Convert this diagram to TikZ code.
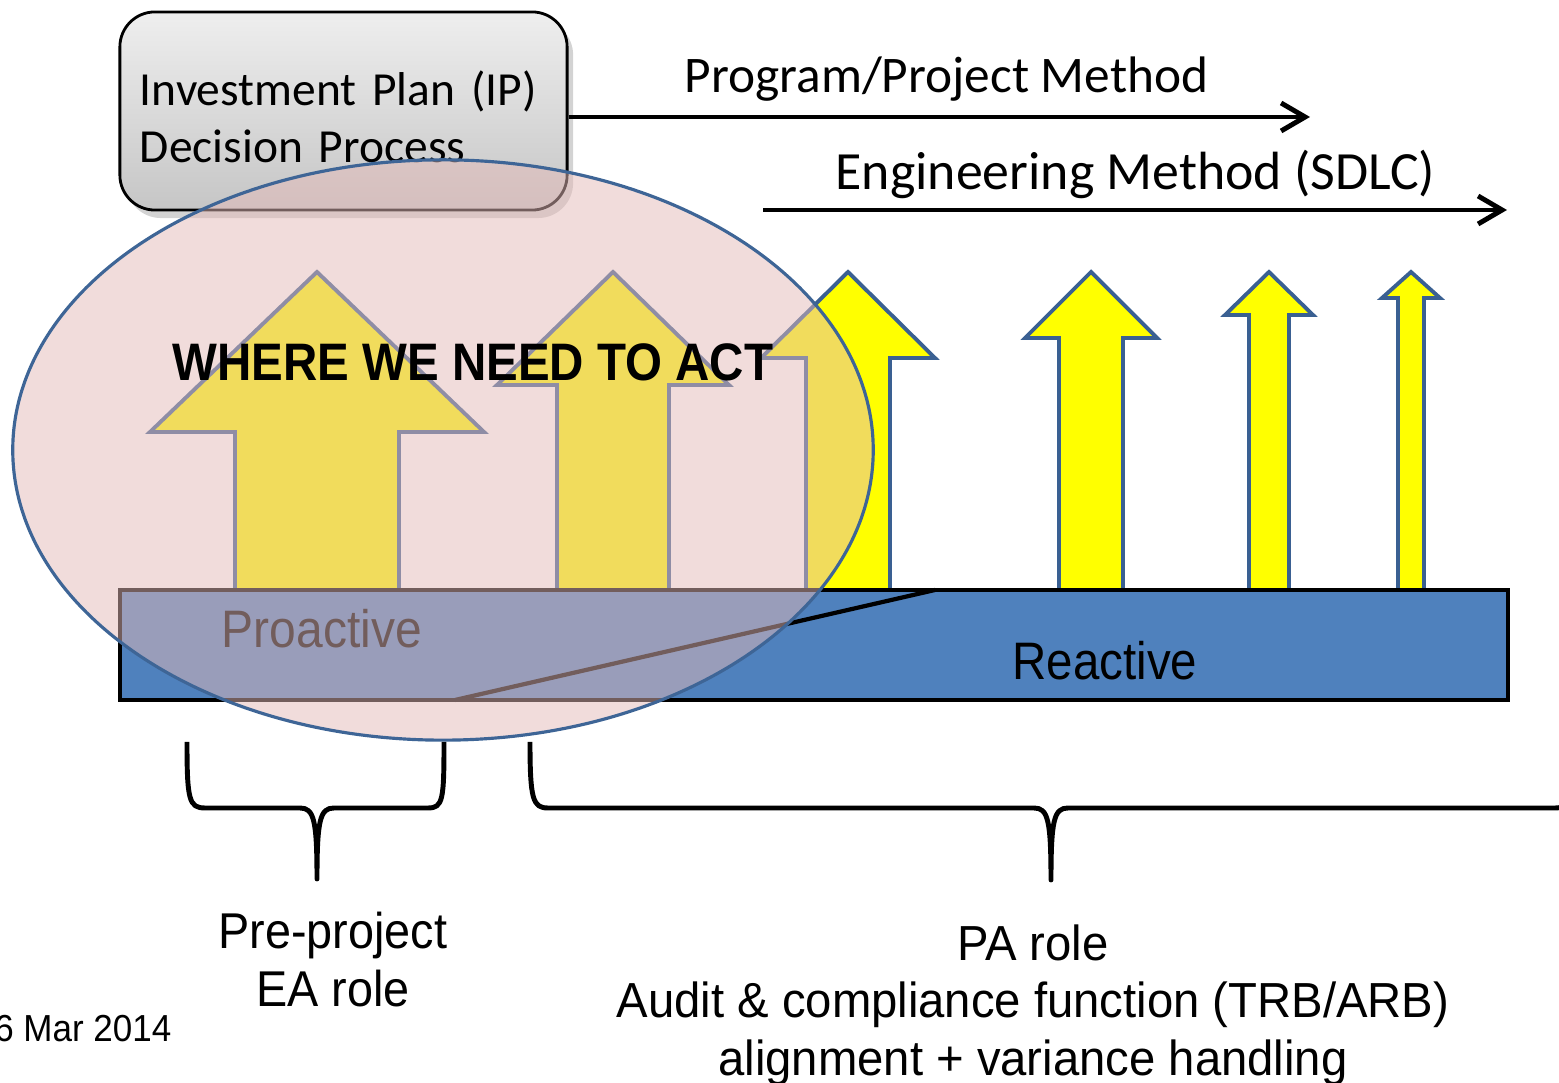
\documentclass[tikz,border=0pt]{standalone}
\usepackage{fontspec}
\setmainfont{Liberation Sans}
\newfontfamily\carlito{Carlito}
\usepackage{tikz}
\usetikzlibrary{arrows.meta, positioning, shapes.geometric, shadows}
\definecolor{zonefill}{RGB}{228,186,184}
\definecolor{zoneline}{RGB}{62,101,150}
\definecolor{arrowline}{RGB}{58,96,146}
\definecolor{phaseblue}{RGB}{79,129,189}
\definecolor{actyellow}{RGB}{255,255,0}
\tikzset{
    ipbox/.style={draw=black, line width=0.8pt, rounded corners=0.35cm, minimum width=4.47cm, minimum height=1.98cm, text width=4.07cm, inner xsep=0.2cm, align=left, top color=gray!13, bottom color=gray!45, drop shadow={opacity=0.35, shadow xshift=0.6mm, shadow yshift=-0.8mm}, font=\carlito\fontsize{13.5}{16.2}\selectfont},
    method/.style={-{Straight Barb[length=2.4mm, width=2.8mm]}, line width=1.4pt},
    methodlabel/.style={anchor=base west, inner sep=0pt, font=\carlito\fontsize{14.6}{17}\selectfont},
    actarrow/.style={fill=actyellow, draw=arrowline, line width=1.1pt},
    phase/.style={fill=phaseblue, draw=black, line width=1.2pt},
    split/.style={draw=black, line width=1.2pt},
    phaselabel/.style={anchor=base west, inner sep=0pt, font=\fontsize{15}{18}\selectfont},
    zone/.style={ellipse, draw=zoneline, line width=0.9pt, fill=zonefill, fill opacity=0.5, minimum width=8.6cm, minimum height=5.8cm},
    brace/.style={line width=1.4pt, line join=round},
    rolelabel/.style={anchor=north, inner sep=0pt, align=center},
    squeeze/.style={xscale=#1, transform shape},
}
\begin{document}
\begin{tikzpicture}[x=0.01cm, y=-0.01cm]
    \useasboundingbox (0,0) rectangle (1559,1083);

    % decision box and method lines
    \node[ipbox] (ip) at (343.5,111) {\rule{0pt}{13pt}Investment Plan (IP)\\Decision Process};
    \coordinate (pmend) at (1310,117);
    \coordinate (emstart) at (763,210);
    \coordinate (emend) at (1507,210);
    \draw[method] (ip.east |- pmend) -- (pmend);
    \draw[method] (emstart) -- (emend);
    \node[methodlabel] (pm) at (684,93) {Program/Project Method};
    \node[methodlabel, font=\carlito\fontsize{15.3}{18}\selectfont] (em) at (835,190) {Engineering Method (SDLC)};

    % arrows
    \draw[actarrow] (317,272) -- (484,432) -- (399,432) -- (399,590) -- (235,590) -- (235,432) -- (150,432) -- cycle;
    \draw[actarrow] (613,272) -- (729,385) -- (669,385) -- (669,590) -- (557,590) -- (557,385) -- (497,385) -- cycle;
    \draw[actarrow] (848,272) -- (935,358) -- (890,358) -- (890,590) -- (806,590) -- (806,358) -- (761,358) -- cycle;
    \draw[actarrow] (1091,272) -- (1157,338) -- (1123,338) -- (1123,590) -- (1059,590) -- (1059,338) -- (1025,338) -- cycle;
    \draw[actarrow] (1269,272) -- (1313,315) -- (1289,315) -- (1289,590) -- (1249,590) -- (1249,315) -- (1225,315) -- cycle;
    \draw[actarrow] (1411,272) -- (1440,298) -- (1424,298) -- (1424,590) -- (1398,590) -- (1398,298) -- (1382,298) -- cycle;

    % proactive / reactive bar
    \draw[phase] (120,590) rectangle (1508,700);
    \draw[split] (455,700) -- (935,590);
    \node[phaselabel, squeeze=0.91] (pro) at (221,648) {Proactive};
    \node[phaselabel, squeeze=0.9] (re) at (1012,680) {Reactive};

    % where we need to act
    \node[zone] (act) at (443,450) {};
    \node[anchor=base west, inner sep=0pt, font=\bfseries\fontsize{15}{18}\selectfont, squeeze=0.9] (acttext) at (172,381) {WHERE WE NEED TO ACT};

    % roles
    \draw[brace] (187,742) .. controls (187,800) and (189,808) .. (205,808) -- (300,808) .. controls (314,808) and (317,820) .. (317,879) .. controls (317,820) and (320,808) .. (334,808) -- (428,808) .. controls (443,808) and (444,800) .. (444,742);
    \draw[brace] (530,742) .. controls (530,800) and (533,808) .. (548,808) -- (1034,808) .. controls (1048,808) and (1051,820) .. (1051,880) .. controls (1051,820) and (1054,808) .. (1068,808) -- (1555,808) .. controls (1570,808) and (1572,800) .. (1572,742);
    \node[rolelabel, squeeze=0.93, font=\fontsize{14.3}{16.5}\selectfont] (ea) at (333,911) {Pre-project\\EA role};
    \node[rolelabel, squeeze=0.96, font=\fontsize{14}{16.3}\selectfont] (pa) at (1033,924) {PA role\\Audit \& compliance function (TRB/ARB)\\alignment + variance handling};
    \node[anchor=base east, inner sep=0pt, font=\fontsize{10.7}{13}\selectfont, squeeze=0.93] (date) at (172,1042) {6 Mar 2014};
\end{tikzpicture}
\end{document}
